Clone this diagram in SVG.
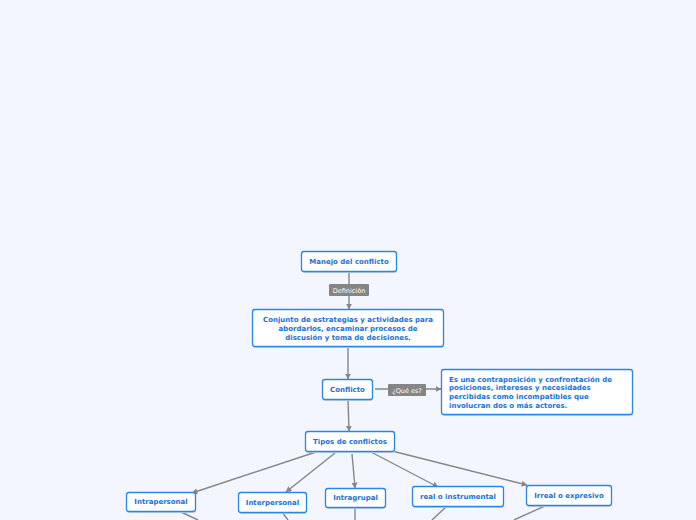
<svg xmlns="http://www.w3.org/2000/svg" width="696" height="520" viewBox="0 0 696 520">
<style>
.bg{fill:#f3f6fe}
.box{fill:#ffffff;stroke:#2a86e4;stroke-width:1.3}
.sh{fill:#c9d3e3}
.t{font-family:"DejaVu Sans",Verdana,sans-serif;font-weight:bold;font-size:7px;fill:#1a70d8;text-anchor:middle}
.tl{font-family:"DejaVu Sans",Verdana,sans-serif;font-weight:bold;font-size:7px;fill:#1a70d8}
.ln{stroke:#868686;stroke-width:1.4;fill:none}
.lbl{fill:#858585}
.lt{font-family:"DejaVu Sans",Verdana,sans-serif;font-size:6.5px;fill:#ffffff;text-anchor:middle}
</style>
<defs>
<marker id="ar" viewBox="0 0 10 10" refX="9" refY="5" markerWidth="6" markerHeight="6" markerUnits="userSpaceOnUse" orient="auto">
<path d="M0,0 L10,5 L0,10 z" fill="#868686"/>
</marker>
</defs>
<rect class="bg" x="0" y="0" width="696" height="520"/>
<g id="connectors">
<line class="ln" x1="349" y1="271" x2="349" y2="309" marker-end="url(#ar)"/>
<rect class="lbl" x="329" y="284" width="40" height="12" rx="1"/>
<text class="lt" x="349" y="292.5">Definición</text>
<line class="ln" x1="348" y1="346" x2="348" y2="379" marker-end="url(#ar)"/>
<line class="ln" x1="375" y1="389" x2="441" y2="389" marker-end="url(#ar)"/>
<rect class="lbl" x="388" y="384" width="38" height="12" rx="1"/>
<text class="lt" x="407" y="392.5">¿Qué es?</text>
<line class="ln" x1="348" y1="399" x2="349" y2="431" marker-end="url(#ar)"/>
<line class="ln" x1="316" y1="452" x2="192" y2="493" marker-end="url(#ar)"/>
<line class="ln" x1="335" y1="453" x2="286" y2="492" marker-end="url(#ar)"/>
<line class="ln" x1="352" y1="454" x2="355" y2="488" marker-end="url(#ar)"/>
<line class="ln" x1="371" y1="452" x2="438" y2="487" marker-end="url(#ar)"/>
<line class="ln" x1="392" y1="451" x2="527" y2="485" marker-end="url(#ar)"/>
<line class="ln" x1="181" y1="512" x2="198" y2="520"/>
<line class="ln" x1="282" y1="512" x2="288" y2="520"/>
<line class="ln" x1="355" y1="507" x2="355" y2="520"/>
<line class="ln" x1="447" y1="506" x2="432" y2="520"/>
<line class="ln" x1="547" y1="505" x2="514" y2="520"/>
</g>
<g id="manejo">
<rect class="sh" x="302" y="253" width="95" height="20" rx="2.5"/>
<rect class="box" x="301.5" y="251.5" width="95" height="20" rx="2.5"/>
<text class="t" x="349" y="263.5">Manejo del conflicto</text>
</g>
<g id="conjunto">
<rect class="sh" x="253" y="311" width="191" height="37" rx="2.5"/>
<rect class="box" x="252.5" y="309.5" width="191" height="37" rx="2.5"/>
<text class="t" x="348" y="321.5">Conjunto de estrategias y actividades para</text>
<text class="t" x="348" y="330.5">abordarlos, encaminar procesos de</text>
<text class="t" x="348" y="339.5">discusión y toma de decisiones.</text>
</g>
<g id="conflicto">
<rect class="sh" x="323" y="381" width="50" height="20" rx="2.5"/>
<rect class="box" x="322.5" y="379.5" width="50" height="20" rx="2.5"/>
<text class="t" x="347.5" y="391.5">Conflicto</text>
</g>
<g id="definicion">
<rect class="sh" x="442" y="371" width="191" height="45" rx="2.5"/>
<rect class="box" x="441.5" y="369.5" width="191" height="45" rx="2.5"/>
<text class="tl" x="449" y="381.5">Es una contraposición y confrontación de</text>
<text class="tl" x="449" y="390.2">posiciones, intereses y necesidades</text>
<text class="tl" x="449" y="398.9">percibidas como incompatibles que</text>
<text class="tl" x="449" y="407.6">involucran dos o más actores.</text>
</g>
<g id="tipos">
<rect class="sh" x="306" y="433" width="89" height="20" rx="2.5"/>
<rect class="box" x="305.5" y="431.5" width="89" height="20" rx="2.5"/>
<text class="t" x="350" y="443.5">Tipos de conflictos</text>
</g>
<g id="intrapersonal">
<rect class="sh" x="127" y="494" width="69" height="19" rx="2.5"/>
<rect class="box" x="126.5" y="492.5" width="69" height="19" rx="2.5"/>
<text class="t" x="161" y="504">Intrapersonal</text>
</g>
<g id="interpersonal">
<rect class="sh" x="239" y="494" width="68" height="20" rx="2.5"/>
<rect class="box" x="238.5" y="492.5" width="68" height="20" rx="2.5"/>
<text class="t" x="272.5" y="504.5">Interpersonal</text>
</g>
<g id="intragrupal">
<rect class="sh" x="326" y="490" width="60" height="19" rx="2.5"/>
<rect class="box" x="325.5" y="488.5" width="60" height="19" rx="2.5"/>
<text class="t" x="355.5" y="500">Intragrupal</text>
</g>
<g id="real">
<rect class="sh" x="413" y="488" width="91" height="20" rx="2.5"/>
<rect class="box" x="412.5" y="486.5" width="91" height="20" rx="2.5"/>
<text class="t" x="458" y="498.5">real o instrumental</text>
</g>
<g id="irreal">
<rect class="sh" x="527" y="487" width="85" height="20" rx="2.5"/>
<rect class="box" x="526.5" y="485.5" width="85" height="20" rx="2.5"/>
<text class="t" x="569" y="497.5">Irreal o expresivo</text>
</g>
</svg>
